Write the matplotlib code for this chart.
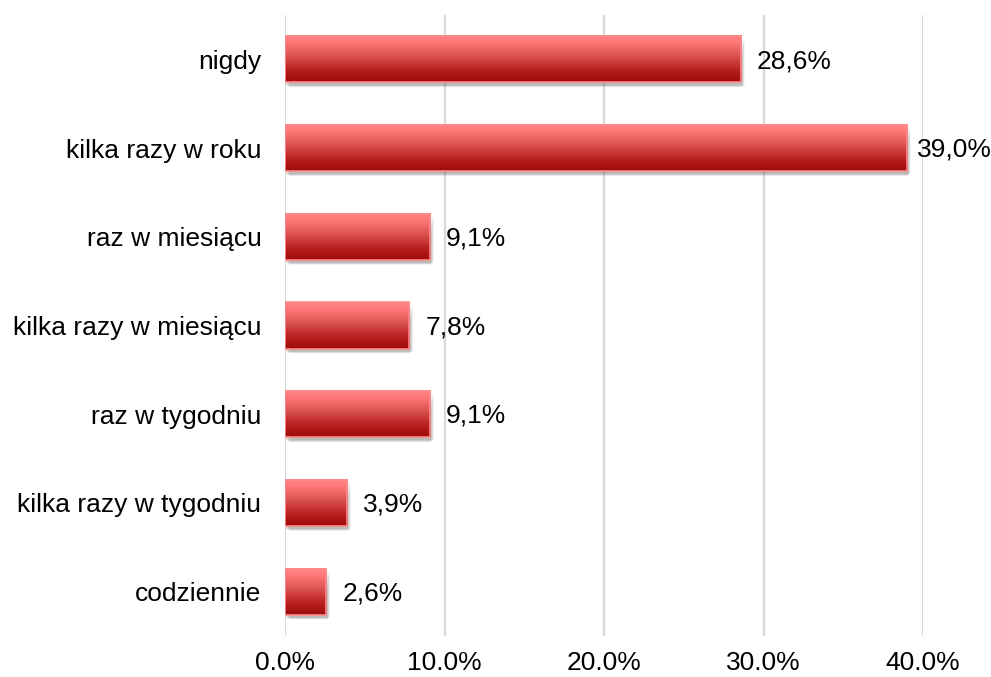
import numpy as np
import matplotlib.pyplot as plt
from matplotlib.patches import Rectangle
from matplotlib.colors import LinearSegmentedColormap

plt.rcParams['font.family'] = ['Liberation Sans', 'DejaVu Sans']

categories = ["nigdy", "kilka razy w roku", "raz w miesiącu", "kilka razy w miesiącu",
              "raz w tygodniu", "kilka razy w tygodniu", "codziennie"]
values = [28.6, 39.0, 9.1, 7.8, 9.1, 3.9, 2.6]
value_labels = ["28,6%", "39,0%", "9,1%", "7,8%", "9,1%", "3,9%", "2,6%"]
x_ticks = [0, 10, 20, 30, 40]
x_tick_labels = ["0.0%", "10.0%", "20.0%", "30.0%", "40.0%"]

FS = 19

fig = plt.figure(figsize=(9.91, 6.77), dpi=100)
ax = fig.add_axes([285 / 991, 1 - 636 / 677, (923 - 285) / 991, (636 - 15) / 677])

n = len(categories)
ypos = np.arange(n)[::-1]
bar_h = 0.52

# vertical gradient: dark red at the bottom, light coral at the top
grad_cmap = LinearSegmentedColormap.from_list(
    "bar", [(0.0, "#9e0a0a"), (0.25, "#b82020"), (0.6, "#e05858"), (0.85, "#ff7878"), (1.0, "#ff8484")])
grad = np.linspace(0, 1, 64).reshape(-1, 1)

for y, v in zip(ypos, values):
    # soft drop shadow below and slightly right of the bar
    for k in range(14):
        off_y = 0.03 + 0.01 * k
        ax.add_patch(Rectangle((0.03 + k * 0.02, y - bar_h / 2 - off_y + k * 0.008),
                               v + 0.2 - k * 0.035, bar_h - k * 0.015,
                               facecolor="#3a3a3a", alpha=0.028, edgecolor="none", zorder=2))
    ax.imshow(grad, cmap=grad_cmap, origin="lower", aspect="auto",
              extent=[0, v, y - bar_h / 2, y + bar_h / 2], zorder=3, interpolation="bicubic")
    ax.add_patch(Rectangle((0, y - bar_h / 2), v, bar_h, facecolor="none",
                           edgecolor="#ff8a8a", linewidth=1.2, zorder=4))

for y, v, lab in zip(ypos, values, value_labels):
    gap = 1.0 if v < 36 else 0.6
    ax.text(v + gap, y - 0.02, lab, va="center", ha="left", fontsize=FS, color="#000000", zorder=5)

ax.set_xlim(0, 40)
ax.set_ylim(-0.5, n - 0.5)
ax.set_xticks(x_ticks)
ax.set_xticklabels(x_tick_labels, fontsize=FS)
ax.set_yticks(ypos)
ax.set_yticklabels(categories, fontsize=FS)
ax.tick_params(axis="both", length=0)
ax.tick_params(axis="x", pad=11)
ax.tick_params(axis="y", pad=17)
ax.grid(axis="x", color="#d9d9d9", linewidth=1.6, zorder=0)
ax.set_axisbelow(True)
for s in ax.spines.values():
    s.set_visible(False)

fig.savefig("out.png", dpi=100)
